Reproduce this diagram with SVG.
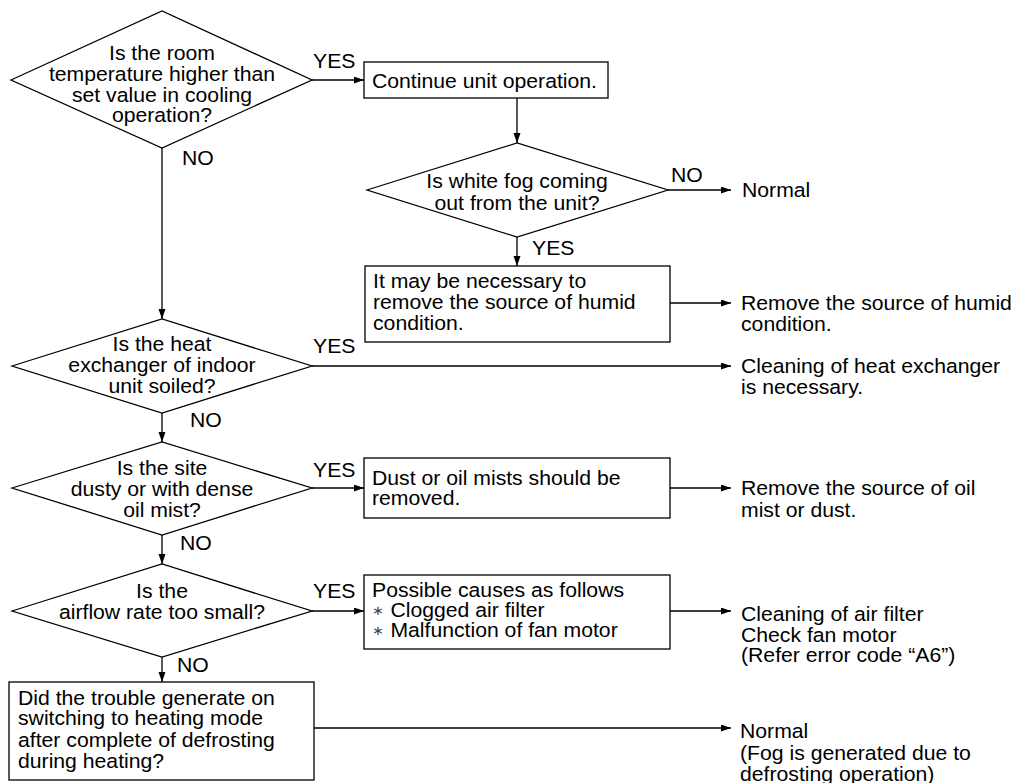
<svg xmlns="http://www.w3.org/2000/svg" width="1023" height="783" viewBox="0 0 1023 783">
<style>
text{font-family:"Liberation Sans",Arial,sans-serif;font-size:19.5px;fill:#000}
.m{text-anchor:middle}
.shape{fill:#fff;stroke:#000;stroke-width:1.3}
.conn line{stroke:#000;stroke-width:1.3;fill:none}
</style>
<defs>
<marker id="ah" markerUnits="userSpaceOnUse" markerWidth="11" markerHeight="8" refX="10" refY="3.5" orient="auto">
<path d="M0,0 L10,3.5 L0,7 z" fill="#000"/>
</marker>
</defs>
<rect width="1023" height="783" fill="#fff"/>

<g id="connectors" class="conn">
<line x1="312" y1="80" x2="364" y2="80" marker-end="url(#ah)"/>
<line x1="517" y1="98" x2="517" y2="143" marker-end="url(#ah)"/>
<line x1="668" y1="190" x2="731" y2="190" marker-end="url(#ah)"/>
<line x1="517" y1="237" x2="517" y2="266" marker-end="url(#ah)"/>
<line x1="670" y1="303" x2="731" y2="303" marker-end="url(#ah)"/>
<line x1="162" y1="148" x2="162" y2="319" marker-end="url(#ah)"/>
<line x1="312" y1="366" x2="731" y2="366" marker-end="url(#ah)"/>
<line x1="162" y1="413" x2="162" y2="442" marker-end="url(#ah)"/>
<line x1="312" y1="488" x2="364" y2="488" marker-end="url(#ah)"/>
<line x1="670" y1="488" x2="731" y2="488" marker-end="url(#ah)"/>
<line x1="162" y1="535" x2="162" y2="564" marker-end="url(#ah)"/>
<line x1="312" y1="611" x2="364" y2="611" marker-end="url(#ah)"/>
<line x1="670" y1="611" x2="731" y2="611" marker-end="url(#ah)"/>
<line x1="162" y1="657" x2="162" y2="682" marker-end="url(#ah)"/>
<line x1="314" y1="728" x2="731" y2="728" marker-end="url(#ah)"/>
</g>

<g id="labels">
<text transform="translate(313 68) scale(1.087 1)">YES</text>
<text transform="translate(182 165) scale(1.087 1)">NO</text>
<text transform="translate(671 182) scale(1.087 1)">NO</text>
<text transform="translate(532 255) scale(1.087 1)">YES</text>
<text transform="translate(313 353) scale(1.087 1)">YES</text>
<text transform="translate(190 427) scale(1.087 1)">NO</text>
<text transform="translate(313 477) scale(1.087 1)">YES</text>
<text transform="translate(180 550) scale(1.087 1)">NO</text>
<text transform="translate(313 598) scale(1.087 1)">YES</text>
<text transform="translate(177 672) scale(1.087 1)">NO</text>
</g>

<g id="q1">
<polygon class="shape" points="11,80 162,11 312,80 162,148"/>
<text class="m" transform="translate(162 60) scale(1.087 1)"><tspan x="0" y="0">Is the room</tspan><tspan x="0" y="21">temperature higher than</tspan><tspan x="0" y="42">set value in cooling</tspan><tspan x="0" y="62">operation?</tspan></text>
</g>

<g id="continue">
<rect class="shape" x="364" y="62" width="244" height="36"/>
<text transform="translate(372 88) scale(1.087 1)">Continue unit operation.</text>
</g>

<g id="q2">
<polygon class="shape" points="367,190 517,143 668,190 517,237"/>
<text class="m" transform="translate(517 188) scale(1.087 1)"><tspan x="0" y="0">Is white fog coming</tspan><tspan x="0" y="22">out from the unit?</tspan></text>
</g>

<g id="normal1">
<text transform="translate(742 197) scale(1.087 1)">Normal</text>
</g>

<g id="humid-box">
<rect class="shape" x="365" y="266" width="305" height="76"/>
<text transform="translate(373 288) scale(1.087 1)"><tspan x="0" y="0">It may be necessary to</tspan><tspan x="0" y="21">remove the source of humid</tspan><tspan x="0" y="42">condition.</tspan></text>
</g>

<g id="humid-result">
<text transform="translate(741 310) scale(1.087 1)"><tspan x="0" y="0">Remove the source of humid</tspan><tspan x="0" y="21">condition.</tspan></text>
</g>

<g id="q3">
<polygon class="shape" points="12,366 162,319 312,366 162,413"/>
<text class="m" transform="translate(162 351) scale(1.087 1)"><tspan x="0" y="0">Is the heat</tspan><tspan x="0" y="21">exchanger of indoor</tspan><tspan x="0" y="42">unit soiled?</tspan></text>
</g>

<g id="clean-hx">
<text transform="translate(741 373) scale(1.087 1)"><tspan x="0" y="0">Cleaning of heat exchanger</tspan><tspan x="0" y="21">is necessary.</tspan></text>
</g>

<g id="q4">
<polygon class="shape" points="12,488 162,442 312,488 162,535"/>
<text class="m" transform="translate(162 475) scale(1.087 1)"><tspan x="0" y="0">Is the site</tspan><tspan x="0" y="21">dusty or with dense</tspan><tspan x="0" y="42">oil mist?</tspan></text>
</g>

<g id="dust-box">
<rect class="shape" x="364" y="458" width="306" height="60"/>
<text transform="translate(372 485) scale(1.087 1)"><tspan x="0" y="0">Dust or oil mists should be</tspan><tspan x="0" y="20">removed.</tspan></text>
</g>

<g id="oil-result">
<text transform="translate(741 495) scale(1.087 1)"><tspan x="0" y="0">Remove the source of oil</tspan><tspan x="0" y="22">mist or dust.</tspan></text>
</g>

<g id="q5">
<polygon class="shape" points="12,611 162,564 312,611 162,657"/>
<text class="m" transform="translate(162 598) scale(1.087 1)"><tspan x="0" y="0">Is the</tspan><tspan x="0" y="21">airflow rate too small?</tspan></text>
</g>

<g id="causes-box">
<rect class="shape" x="364" y="575" width="306" height="74"/>
<text transform="translate(372 597) scale(1.087 1)"><tspan x="0" y="0">Possible causes as follows</tspan><tspan x="0" y="20"><tspan font-size="13px" dy="-2" fill="#444">∗</tspan><tspan dy="2"> Clogged air filter</tspan></tspan><tspan x="0" y="40"><tspan font-size="13px" dy="-2" fill="#444">∗</tspan><tspan dy="2"> Malfunction of fan motor</tspan></tspan></text>
</g>

<g id="filter-result">
<text transform="translate(741 621) scale(1.087 1)"><tspan x="0" y="0">Cleaning of air filter</tspan><tspan x="0" y="21">Check fan motor</tspan><tspan x="0" y="41">(Refer error code “A6”)</tspan></text>
</g>

<g id="defrost-box">
<rect class="shape" x="9" y="682" width="305" height="98"/>
<text transform="translate(18 705) scale(1.087 1)"><tspan x="0" y="0">Did the trouble generate on</tspan><tspan x="0" y="20">switching to heating mode</tspan><tspan x="0" y="42">after complete of defrosting</tspan><tspan x="0" y="63">during heating?</tspan></text>
</g>

<g id="normal2">
<text transform="translate(740 738) scale(1.087 1)"><tspan x="0" y="0">Normal</tspan><tspan x="0" y="22">(Fog is generated due to</tspan><tspan x="0" y="43">defrosting operation)</tspan></text>
</g>
</svg>
